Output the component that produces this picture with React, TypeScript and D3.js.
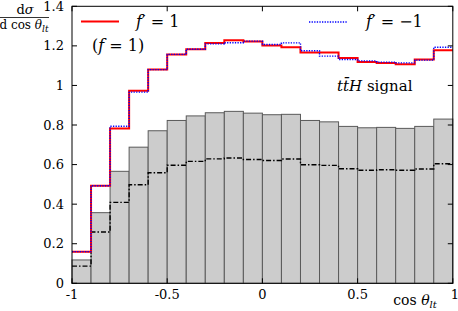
import React from "react";
import * as d3 from "d3";

// bin lower edges for cos(theta_lt), width 0.1
const binStarts = [-1, -0.9, -0.8, -0.7, -0.6, -0.5, -0.4, -0.3, -0.2, -0.1, 0, 0.1, 0.2, 0.3, 0.4, 0.5, 0.6, 0.7, 0.8, 0.9];
const binWidth = 0.1;

const fPlus = [0.16, 0.493, 0.783, 0.973, 1.081, 1.157, 1.183, 1.215, 1.228, 1.222, 1.202, 1.193, 1.167, 1.167, 1.139, 1.119, 1.113, 1.107, 1.131, 1.178];
const fMinus = [0.16, 0.493, 0.794, 0.966, 1.08, 1.157, 1.183, 1.21, 1.216, 1.224, 1.207, 1.215, 1.175, 1.148, 1.131, 1.124, 1.118, 1.114, 1.128, 1.193];
const background = [0.118, 0.357, 0.566, 0.688, 0.771, 0.823, 0.846, 0.862, 0.869, 0.86, 0.852, 0.854, 0.823, 0.816, 0.793, 0.786, 0.788, 0.783, 0.793, 0.83];
const dashed = [0.087, 0.259, 0.409, 0.498, 0.559, 0.597, 0.616, 0.629, 0.633, 0.626, 0.621, 0.628, 0.599, 0.596, 0.579, 0.571, 0.574, 0.571, 0.578, 0.604];

const yTicks = [0, 0.2, 0.4, 0.6, 0.8, 1, 1.2, 1.4];
const xTicks = [-1, -0.5, 0, 0.5, 1];

const W = 458;
const H = 311;
const font = "'DejaVu Serif', serif";

export default function App() {
  const x = d3.scaleLinear().domain([-1, 1]).range([72, 452.8]);
  const y = d3.scaleLinear().domain([0, 1.4]).range([283.3, 6.3]);

  const stepPath = (vals: number[]) => {
    const pts: [number, number][] = [];
    vals.forEach((v, i) => {
      pts.push([x(binStarts[i]), y(v)]);
      pts.push([x(binStarts[i] + binWidth), y(v)]);
    });
    return d3.line()(pts) || "";
  };

  const x0 = x.range()[0], x1 = x.range()[1];
  const yTop = y.range()[1], yBot = y.range()[0];

  return (
    <svg width={W} height={H} style={{ position: "absolute", left: 0, top: 0, background: "#fff", fontFamily: font }}>
      {/* grey histogram */}
      <g>
        {background.map((v, i) => (
          <rect key={i} x={x(binStarts[i])} y={y(v)}
            width={x(binStarts[i] + binWidth) - x(binStarts[i])}
            height={yBot - y(v)}
            fill="#cccccc" stroke="#5a5a5a" strokeWidth={1} />
        ))}
      </g>

      <path d={stepPath(dashed)} fill="none" stroke="#000" strokeWidth={1.4} strokeDasharray="5 2 1.5 2" />
      <path d={stepPath(fPlus)} fill="none" stroke="#ff0000" strokeWidth={2} />
      <path d={stepPath(fMinus)} fill="none" stroke="#0000ff" strokeWidth={1.4} strokeDasharray="1.3 1.3" />

      {/* frame and ticks */}
      <rect x={x0} y={yTop} width={x1 - x0} height={yBot - yTop} fill="none" stroke="#000" strokeWidth={1} />
      {yTicks.map((t) => (
        <g key={"y" + t}>
          <line x1={x0} x2={x0 + 5} y1={y(t)} y2={y(t)} stroke="#000" />
          <line x1={x1} x2={x1 - 5} y1={y(t)} y2={y(t)} stroke="#000" />
          <text x={64} y={y(t)} dy="0.35em" textAnchor="end" fontSize={13}>{String(t)}</text>
        </g>
      ))}
      {xTicks.map((t) => (
        <g key={"x" + t}>
          <line x1={x(t)} x2={x(t)} y1={yTop} y2={yTop + 5} stroke="#000" />
          <line x1={x(t)} x2={x(t)} y1={yBot} y2={yBot - 5} stroke="#000" />
          <text x={x(t) + (t === 1 ? 2 : 0)} y={299} textAnchor="middle" fontSize={13}>{String(t)}</text>
        </g>
      ))}

      {/* axis labels */}
      <text x={415} y={305} textAnchor="middle" fontSize={14}>
        cos <tspan fontStyle="italic">θ</tspan><tspan fontStyle="italic" fontSize={10} dy={3}>lt</tspan>
      </text>
      <text x={25} y={14} textAnchor="middle" fontSize={13}>
        d<tspan fontStyle="italic">σ</tspan>
      </text>
      <line x1={0} x2={49} y1={17.5} y2={17.5} stroke="#000" strokeWidth={0.8} />
      <text x={24} y={29} textAnchor="middle" fontSize={12}>
        d cos <tspan fontStyle="italic">θ</tspan><tspan fontStyle="italic" fontSize={9} dy={3}>lt</tspan>
      </text>

      {/* legend */}
      <line x1={81} x2={119} y1={21.5} y2={21.5} stroke="#ff0000" strokeWidth={2} />
      <text x={136} y={27} fontSize={16}>
        <tspan fontStyle="italic">f</tspan>′ = 1
      </text>
      <text x={92} y={51} fontSize={16}>
        (<tspan fontStyle="italic">f</tspan> = 1)
      </text>
      <line x1={309} x2={348} y1={22} y2={22} stroke="#0000ff" strokeWidth={1.4} strokeDasharray="1.3 1.3" />
      <text x={366} y={27} fontSize={16}>
        <tspan fontStyle="italic">f</tspan>′ = −1
      </text>
      <text x={337} y={91} fontSize={15}>
        <tspan fontStyle="italic">t</tspan><tspan fontStyle="italic">t̄</tspan><tspan fontStyle="italic">H</tspan> signal
      </text>
    </svg>
  );
}
